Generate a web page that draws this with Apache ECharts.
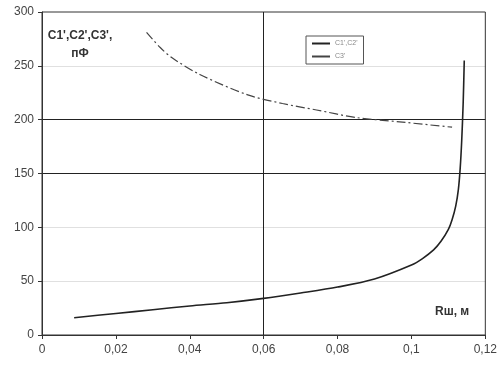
<!DOCTYPE html>
<html>
<head>
<meta charset="utf-8">
<script src="https://cdn.jsdelivr.net/npm/echarts@6/dist/echarts.min.js"></script>
<style>
  html, body { margin: 0; padding: 0; background: #fff; }
  #chart { width: 500px; height: 366px; }
</style>
</head>
<body>
<div id="chart"></div>
<script>
// C1',C2' curve (solid) — [Rш, C]
var c12X = [0.0087, 0.02, 0.03, 0.04, 0.05, 0.06, 0.07, 0.08, 0.09, 0.1, 0.103, 0.106, 0.108, 0.11, 0.111, 0.112, 0.1127, 0.1132, 0.1136, 0.114, 0.1143];
var c12Y = [16, 20, 23.5, 27, 30, 34, 39, 44.5, 52, 65, 71, 79, 87, 98, 107, 120, 135, 155, 180, 215, 255];
// C3' curve (dash-dot)
var c3X = [0.0283, 0.032, 0.0354, 0.0427, 0.0557, 0.0651, 0.0743, 0.085, 0.0968, 0.111];
var c3Y = [281, 267, 257, 242, 223, 215, 209, 202, 198, 193];
var seriesNames = ["С1',С2'", "С3'"];

function pairs(xs, ys) {
  var out = [];
  for (var i = 0; i < xs.length; i++) out.push([xs[i], ys[i]]);
  return out;
}

var chart = echarts.init(document.getElementById("chart"));
var faint = "rgba(0,0,0,0.12)";
var none = "rgba(0,0,0,0)";
var option = {
  animation: false,
  backgroundColor: "#fff",
  textStyle: { fontFamily: "Arial, Liberation Sans, sans-serif" },
  grid: {
    left: 42, right: 13, top: 12, bottom: 31,
    show: true, borderColor: "#333", borderWidth: 1
  },
  legend: {
    left: 306, top: 36,
    orient: "vertical",
    itemWidth: 18, itemHeight: 2, itemGap: 6,
    padding: [4, 6, 4, 6],
    borderColor: "#555", borderWidth: 1,
    textStyle: { fontSize: 7, color: "#888" },
    data: [
      { name: seriesNames[0], icon: "rect" },
      { name: seriesNames[1], icon: "rect" }
    ]
  },
  xAxis: {
    type: "value",
    min: 0, max: 0.12, interval: 0.02,
    axisLine: { lineStyle: { color: "#333" } },
    axisTick: { show: true, length: 4, lineStyle: { color: "#333" } },
    axisLabel: {
      color: "#444", fontSize: 12, margin: 9,
      formatter: function (v) {
        return v === 0 ? "0" : String(+v.toFixed(2)).replace(".", ",");
      }
    },
    splitLine: {
      show: true,
      lineStyle: { color: [none, none, none, "#222", none, none, none], width: 1 }
    }
  },
  yAxis: {
    type: "value",
    min: 0, max: 300, interval: 50,
    axisLine: { show: true, lineStyle: { color: "#333" } },
    axisTick: { show: true, length: 4, lineStyle: { color: "#333" } },
    axisLabel: { color: "#444", fontSize: 12, margin: 8 },
    splitLine: {
      show: true,
      lineStyle: { color: [none, faint, faint, "#222", "#222", faint, none], width: 1 }
    }
  },
  graphic: [
    {
      type: "text", x: 80, y: 27,
      style: {
        text: "C1',C2',C3',\nпФ",
        fill: "#333", fontSize: 12, fontWeight: "bold",
        align: "center", lineHeight: 18,
        fontFamily: "Arial, Liberation Sans, sans-serif"
      }
    },
    {
      type: "text", x: 435, y: 306,
      style: {
        text: "Rш, м",
        fill: "#333", fontSize: 12, fontWeight: "bold",
        fontFamily: "Arial, Liberation Sans, sans-serif"
      }
    }
  ],
  series: [
    {
      name: seriesNames[0],
      type: "line",
      smooth: 0.3,
      showSymbol: false,
      data: pairs(c12X, c12Y),
      lineStyle: { color: "#222", width: 1.6 },
      itemStyle: { color: "#222" }
    },
    {
      name: seriesNames[1],
      type: "line",
      smooth: 0.3,
      showSymbol: false,
      data: pairs(c3X, c3Y),
      lineStyle: { color: "#444", width: 1.2, type: [9, 3, 2, 3] },
      itemStyle: { color: "#444" }
    }
  ]
};
chart.setOption(option);
window.addEventListener("resize", function () {
  chart.resize();
});
</script>
</body>
</html>
